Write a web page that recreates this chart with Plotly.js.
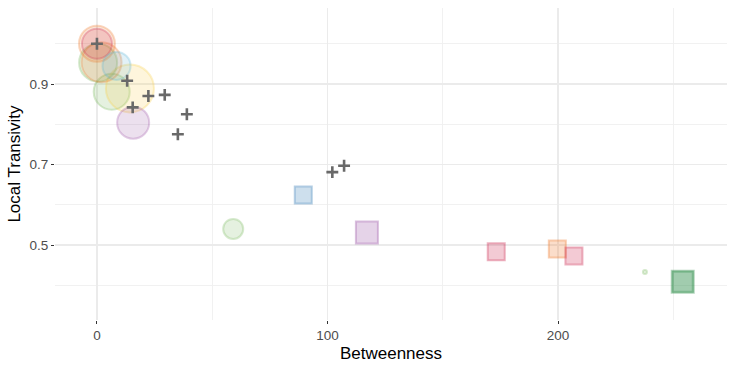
<!DOCTYPE html>
<html>
<head>
<meta charset="utf-8">
<script src="https://cdn.plot.ly/plotly-3.0.1.min.js"></script>
<style>
  html, body { margin: 0; padding: 0; background: #fff; }
  #chart { width: 736px; height: 370px; }
</style>
</head>
<body>
<div id="chart"></div>
<script>
// nodes drawn as circles
var circleX      = [6.4, 14.3, 15.7, 0.5, 2, 0, 0, 8.5, 59.1, 237.7];
var circleY      = [0.881, 0.889, 0.804, 0.953, 0.954, 1.000, 1.000, 0.945, 0.540, 0.433];
var circleDegree = [18, 24, 16, 19, 20, 18, 15, 14, 10, 2];
var circleGroup  = ['C8', 'C6', 'C5', 'C8', 'C2', 'C2', 'C1', 'C7', 'C8', 'C8'];

// nodes drawn as squares
var squareX      = [89.5, 117.1, 173.2, 199.7, 206.9, 254.1, 254.1];
var squareY      = [0.624, 0.531, 0.483, 0.490, 0.473, 0.409, 0.409];
var squareDegree = [8.5, 11, 8.5, 8.5, 8.5, 11, 10];
var squareGroup  = ['C4', 'C5', 'C1', 'C2', 'C1', 'C3', 'C3'];

// nodes drawn as crosses
var crossX = [0, 13.1, 22.3, 29.4, 15.5, 39.0, 35.1, 102.1, 107.2];
var crossY = [1.000, 0.908, 0.870, 0.873, 0.842, 0.825, 0.775, 0.681, 0.697];

var xTicks = [0, 100, 200];
var yTicks = [0.5, 0.7, 0.9];

var groupRgb = {
    C1: '205,40,80',
    C2: '240,120,40',
    C3: '40,140,70',
    C4: '55,126,184',
    C5: '152,78,163',
    C6: '250,205,60',
    C7: '90,180,215',
    C8: '110,180,80'
};

function fills(groups, a) {
    return groups.map(function (g) { return 'rgba(' + groupRgb[g] + ',' + a + ')'; });
}
function sizes(deg) {
    return deg.map(function (d) { return 2 * d; });
}

var circles = {
    x: circleX, y: circleY,
    mode: 'markers', type: 'scatter', hoverinfo: 'skip',
    marker: {
        symbol: 'circle',
        size: sizes(circleDegree),
        color: fills(circleGroup, 0.25),
        line: {color: fills(circleGroup, 0.4), width: 2}
    }
};

var squares = {
    x: squareX, y: squareY,
    mode: 'markers', type: 'scatter', hoverinfo: 'skip',
    marker: {
        symbol: 'square',
        size: sizes(squareDegree),
        color: fills(squareGroup, 0.35),
        line: {color: fills(squareGroup, 0.5), width: 2}
    }
};

var crosses = {
    x: crossX, y: crossY,
    mode: 'markers', type: 'scatter', hoverinfo: 'skip',
    marker: {
        symbol: 'cross-thin',
        size: 8.5,
        color: 'rgb(105,105,105)',
        line: {color: 'rgb(105,105,105)', width: 2.6}
    }
};

var layout = {
    width: 736, height: 370,
    margin: {l: 55, r: 9, t: 8, b: 50},
    paper_bgcolor: '#fff', plot_bgcolor: '#fff',
    showlegend: false,
    font: {family: 'Liberation Sans, Arial, sans-serif', color: '#4d4d4d', size: 13},
    xaxis: {
        range: [-18.2, 273.3],
        tickvals: xTicks,
        ticks: 'outside', ticklen: 3, tickwidth: 1, tickcolor: '#333',
        showgrid: true, gridcolor: '#ebebeb', gridwidth: 1.4,
        minor: {dtick: 50, tick0: 0, showgrid: true, gridcolor: '#efefef', gridwidth: 0.9, ticks: ''},
        zeroline: false, showline: false,
        tickfont: {size: 13.5, color: '#4d4d4d'},
        title: {text: 'Betweenness', font: {size: 17, color: '#000'}, standoff: 4}
    },
    yaxis: {
        range: [0.3137, 1.0888],
        tickvals: yTicks,
        ticks: 'outside', ticklen: 3, tickwidth: 1, tickcolor: '#333',
        showgrid: true, gridcolor: '#ebebeb', gridwidth: 1.4,
        minor: {dtick: 0.1, tick0: 0.4, showgrid: true, gridcolor: '#efefef', gridwidth: 0.9, ticks: ''},
        zeroline: false, showline: false,
        tickfont: {size: 13.5, color: '#4d4d4d'},
        title: {text: 'Local Transivity', font: {size: 17, color: '#000'}, standoff: 4}
    }
};

Plotly.newPlot('chart', [circles, squares, crosses], layout, {displayModeBar: false, staticPlot: true});
</script>
</body>
</html>
